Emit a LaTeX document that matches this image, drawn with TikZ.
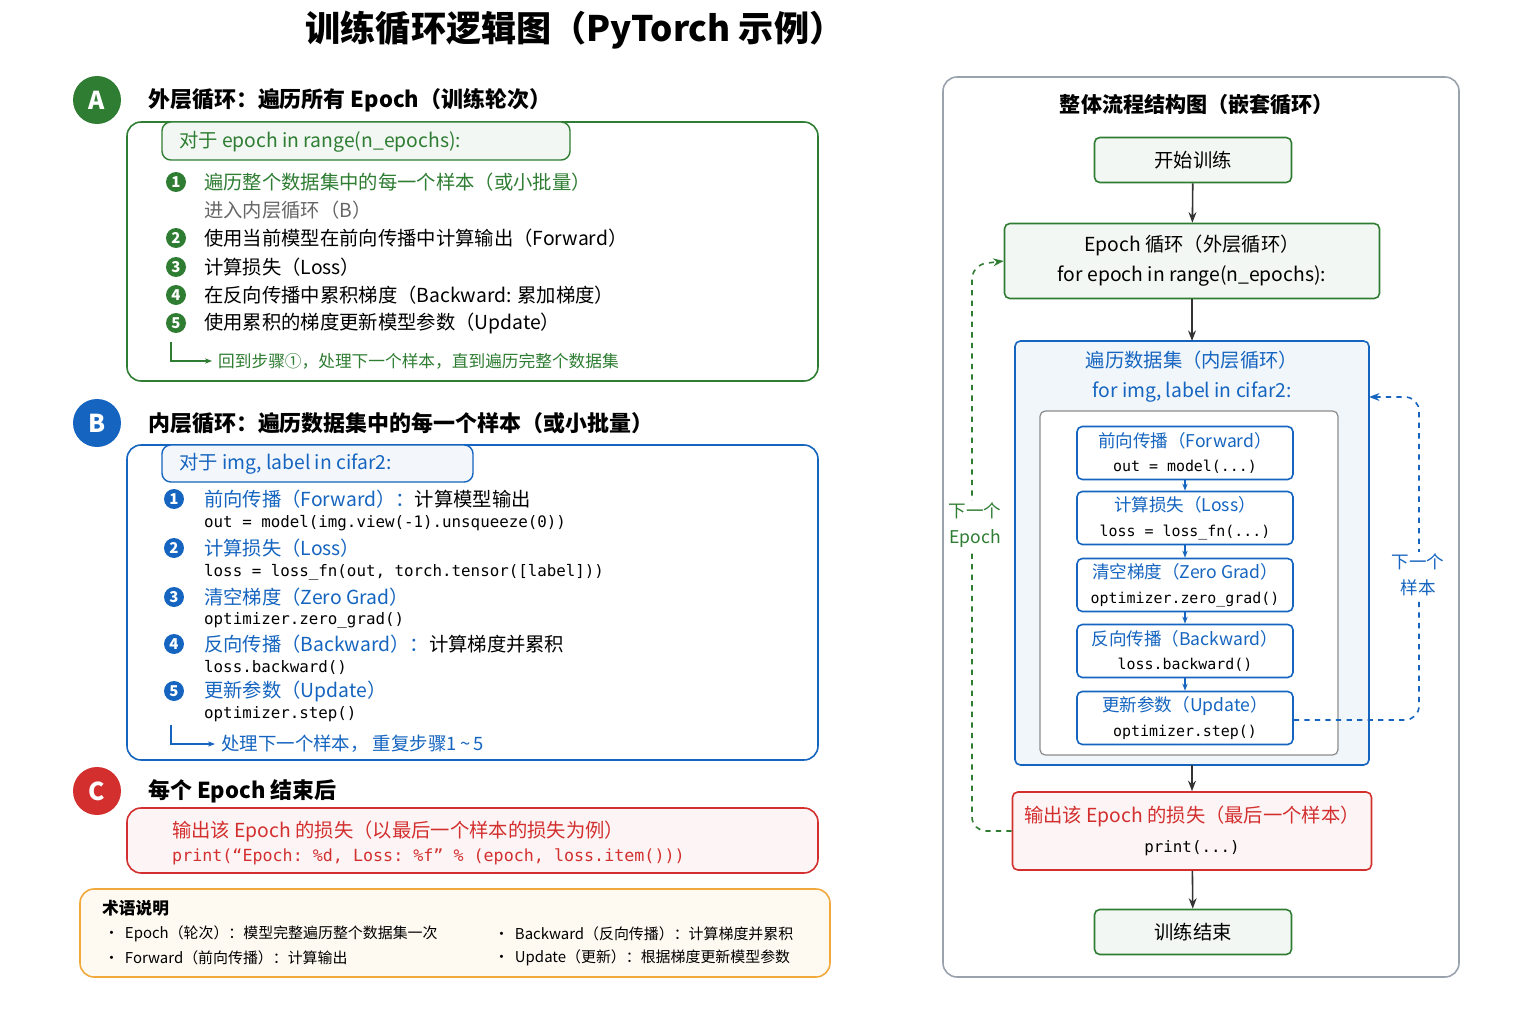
\documentclass[tikz,border=0pt]{standalone}
\usepackage{fontspec}
\setmainfont{Noto Sans CJK SC}
\setmonofont{DejaVu Sans Mono}
\usetikzlibrary{positioning,arrows.meta}
\definecolor{cgreen}{HTML}{2E7D32}
\definecolor{cblue}{HTML}{1565C0}
\definecolor{cred}{HTML}{D32F2F}
\definecolor{corange}{HTML}{F2A93B}
\definecolor{cgray}{HTML}{9AA3AD}
\tikzset{
  sec/.style={circle,minimum size=48*0.02cm,inner sep=0pt,text=white,font=\bfseries\fontsize{14}{14}\selectfont},
  head/.style={anchor=west,font=\bfseries\fontsize{12.5}{14}\selectfont},
  frame/.style={rounded corners=8pt,line width=0.9pt},
  num/.style={circle,inner sep=0pt,minimum size=20*0.02cm,text=white,font=\bfseries\fontsize{8.5}{9}\selectfont},
  item/.style={anchor=west,font=\fontsize{11}{13}\selectfont},
  code/.style={anchor=west,font=\ttfamily\fontsize{9}{11}\selectfont},
  box/.style={draw,rounded corners=3pt,line width=0.9pt,align=center,inner sep=0pt},
  flowstep/.style={box,draw=cblue,fill=white,minimum width=216*0.02cm,minimum height=53*0.02cm,font=\fontsize{10}{14}\selectfont},
  flow/.style={-{Stealth[length=6pt]},line width=0.9pt,draw=black!80},
  small/.style={-{Stealth[length=4pt]},line width=0.7pt,draw=cblue},
}
\begin{document}
\begin{tikzpicture}[x=0.02cm,y=-0.02cm]
\useasboundingbox[fill=white] (0,0) rectangle (1536,1024);
% title
\node[font=\bfseries\fontsize{20}{22}\selectfont] (title) at (575,30) {训练循环逻辑图（PyTorch 示例）};

% section A
\node[sec,fill=cgreen] (secA) at (97,100) {A};
\node[head] (headA) at (142,100) {外层循环：遍历所有 Epoch（训练轮次）};
\draw[frame,draw=cgreen] (127,122) rectangle (818,381);
\draw[rounded corners=5pt,draw=cgreen,fill=cgreen!6,line width=0.8pt] (162,122) rectangle (570,160);
\node[item,text=cgreen] (tabA) at (173,142) {对于 epoch in range(n\_epochs):};
\node[num,fill=cgreen] (a1) at (176,182) {1};
\node[item,text=cgreen] at (198,182) {遍历整个数据集中的每一个样本（或小批量）};
\node[item,text=black!60] at (198,210) {进入内层循环（B）};
\node[num,fill=cgreen] (a2) at (176,238) {2};
\node[item] at (198,238) {使用当前模型在前向传播中计算输出（Forward）};
\node[num,fill=cgreen] (a3) at (176,267) {3};
\node[item] at (198,267) {计算损失（Loss）};
\node[num,fill=cgreen] (a4) at (176,295) {4};
\node[item] at (198,295) {在反向传播中累积梯度（Backward: 累加梯度）};
\node[num,fill=cgreen] (a5) at (176,323) {5};
\node[item] at (198,323) {使用累积的梯度更新模型参数（Update）};
\node[item,text=cgreen,font=\fontsize{9.5}{11}\selectfont] (backA) at (212,361) {回到步骤①，处理下一个样本，直到遍历完整个数据集};
\coordinate (ta) at (171,342);
\draw[small,draw=cgreen] (ta) |- (backA.west);

% section B
\node[sec,fill=cblue] (secB) at (97,423) {B};
\node[head] (headB) at (142,423) {内层循环：遍历数据集中的每一个样本（或小批量）};
\draw[frame,draw=cblue] (127,445) rectangle (818,760);
\draw[rounded corners=5pt,draw=cblue,fill=cblue!5,line width=0.8pt] (162,445) rectangle (473,482);
\node[item,text=cblue] (tabB) at (173,464) {对于 img, label in cifar2:};
\node[num,fill=cblue] (b1) at (174,499) {1};
\node[item] at (198,499) {\textcolor{cblue}{前向传播（Forward）：}计算模型输出};
\node[code] at (198,523) {out = model(img.view(-1).unsqueeze(0))};
\node[num,fill=cblue] (b2) at (174,548) {2};
\node[item,text=cblue] at (198,548) {计算损失（Loss）};
\node[code] at (198,572) {loss = loss\_fn(out, torch.tensor([label]))};
\node[num,fill=cblue] (b3) at (174,597) {3};
\node[item,text=cblue] at (198,597) {清空梯度（Zero Grad）};
\node[code] at (198,620) {optimizer.zero\_grad()};
\node[num,fill=cblue] (b4) at (174,644) {4};
\node[item] at (198,644) {\textcolor{cblue}{反向传播（Backward）：}计算梯度并累积};
\node[code] at (198,667) {loss.backward()};
\node[num,fill=cblue] (b5) at (174,691) {5};
\node[item,text=cblue] at (198,691) {更新参数（Update）};
\node[code] at (198,714) {optimizer.step()};
\node[item,text=cblue,font=\fontsize{10.5}{12}\selectfont] (backB) at (215,744) {处理下一个样本， 重复步骤1\,\textasciitilde\,5};
\coordinate (tb) at (171,725);
\draw[small] (tb) |- (backB.west);

% section C
\node[sec,fill=cred] (secC) at (97,791) {C};
\node[head] (headC) at (142,791) {每个 Epoch 结束后};
\draw[frame,draw=cred,fill=cred!5] (127,808) rectangle (818,873);
\node[item,text=cred] at (166,831) {输出该 Epoch 的损失（以最后一个样本的损失为例）};
\node[code,text=cred,font=\ttfamily\fontsize{9.5}{11}\selectfont] at (166,857) {print(“Epoch: \%d, Loss: \%f” \% (epoch, loss.item()))};

% glossary
\draw[frame,draw=corange,fill=corange!7] (80,889) rectangle (830,977);
\node[anchor=west,font=\bfseries\fontsize{9.5}{11}\selectfont] (gloss) at (96,908) {术语说明};
\node[anchor=west,font=\fontsize{8.5}{10}\selectfont] at (98,934) {•\, Epoch（轮次）：模型完整遍历整个数据集一次};
\node[anchor=west,font=\fontsize{8.5}{10}\selectfont] at (98,958) {•\, Forward（前向传播）：计算输出};
\node[anchor=west,font=\fontsize{8.5}{10}\selectfont] at (488,934) {•\, Backward（反向传播）：计算梯度并累积};
\node[anchor=west,font=\fontsize{8.5}{10}\selectfont] at (488,958) {•\, Update（更新）：根据梯度更新模型参数};

% right panel
\draw[rounded corners=8pt,draw=cgray,line width=0.9pt] (943,77) rectangle (1459,977);
\node[font=\bfseries\fontsize{12}{14}\selectfont] (rtitle) at (1197,105) {整体流程结构图（嵌套循环）};
\node[box,draw=cgreen,fill=cgreen!6,minimum width=197*0.02cm,minimum height=45*0.02cm,font=\fontsize{11}{13}\selectfont] (start) at (1193,160) {开始训练};
\node[box,draw=cgreen,fill=cgreen!6,minimum width=375*0.02cm,minimum height=75*0.02cm,font=\fontsize{11}{17}\selectfont] (epoch) at (1192,261) {Epoch 循环（外层循环）\\for epoch in range(n\_epochs):};
\draw[rounded corners=3pt,draw=cblue,fill=cblue!6,line width=0.9pt] (1015,341) rectangle (1369,765);
\coordinate (inTop) at (1192,341);
\coordinate (inBot) at (1192,765);
\coordinate (inRight) at (1369,397);
\node[align=center,text=cblue,font=\fontsize{11}{17}\selectfont] (inner) at (1192,377) {遍历数据集（内层循环）\\for img, label in cifar2:};
\draw[rounded corners=3pt,draw=black!45,fill=white,line width=0.7pt] (1040,411) rectangle (1338,755);
\node[flowstep] (s1) at (1185,453) {\textcolor{cblue}{前向传播（Forward）}\\\texttt{\fontsize{8.5}{10}\selectfont out = model(...)}};
\node[flowstep] (s2) at (1185,518) {\textcolor{cblue}{计算损失（Loss）}\\\texttt{\fontsize{8.5}{10}\selectfont loss = loss\_fn(...)}};
\node[flowstep] (s3) at (1185,585) {\textcolor{cblue}{清空梯度（Zero Grad）}\\\texttt{\fontsize{8.5}{10}\selectfont optimizer.zero\_grad()}};
\node[flowstep] (s4) at (1185,651) {\textcolor{cblue}{反向传播（Backward）}\\\texttt{\fontsize{8.5}{10}\selectfont loss.backward()}};
\node[flowstep] (s5) at (1185,718) {\textcolor{cblue}{更新参数（Update）}\\\texttt{\fontsize{8.5}{10}\selectfont optimizer.step()}};
\foreach \a/\b in {s1/s2,s2/s3,s3/s4,s4/s5}
  \draw[small] (\a) -- (\b);
\node[box,draw=cred,fill=cred!5,minimum width=359*0.02cm,minimum height=78*0.02cm,font=\fontsize{11}{17}\selectfont] (out) at (1192,831) {\textcolor{cred}{输出该 Epoch 的损失（最后一个样本）}\\\texttt{\fontsize{9}{10}\selectfont print(...)}};
\node[box,draw=cgreen,fill=cgreen!6,minimum width=197*0.02cm,minimum height=45*0.02cm,font=\fontsize{11}{13}\selectfont] (end) at (1193,932) {训练结束};
\draw[flow] (start) -- (epoch);
\draw[flow] (epoch) -- (inTop);
\draw[flow] (inBot) -- (out);
\draw[flow] (out) -- (end);
% loops
\draw[dashed,line width=0.9pt,draw=cgreen,-{Stealth[length=6pt]}] (out.west) [rounded corners=8pt] -- (972,831) -- (972,265) -- (epoch.west);
\node[fill=white,align=center,text=cgreen,font=\fontsize{10}{15}\selectfont,inner sep=1pt] (nextE) at (975,525) {下一个\\Epoch};
\draw[dashed,line width=0.9pt,draw=cblue,-{Stealth[length=6pt]}] (s5.east |- 0,720) [rounded corners=8pt] -- (1419,720) -- (1419,397) -- (inRight);
\node[fill=white,align=center,text=cblue,font=\fontsize{10}{15}\selectfont,inner sep=1pt] (nextS) at (1418,575) {下一个\\样本};
\end{tikzpicture}
\end{document}
